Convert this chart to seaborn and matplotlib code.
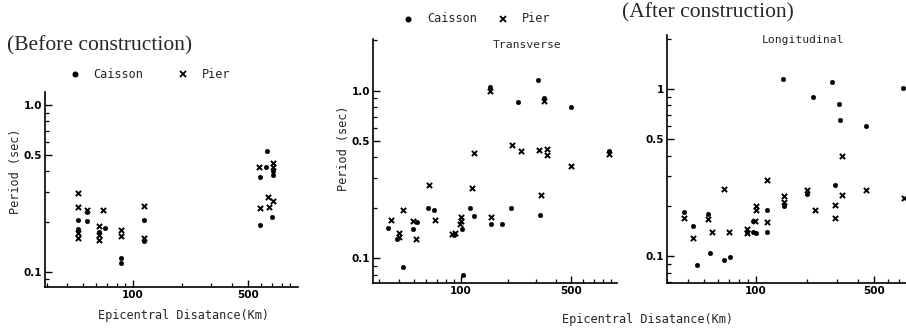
import matplotlib
matplotlib.use("Agg")
import matplotlib.pyplot as plt
import seaborn as sns
import pandas as pd
from matplotlib.ticker import LogLocator, NullFormatter, FixedLocator, FixedFormatter
from matplotlib.lines import Line2D

# ---------------- data ----------------
before_caisson_x = [46.5, 46.5, 52.4, 52.4, 62, 67.3, 84.5, 84.5, 116.7, 116.7,
                    650, 644, 706, 706, 592, 700, 592]
before_caisson_y = [0.203, 0.180, 0.228, 0.202, 0.174, 0.182, 0.121, 0.113, 0.205, 0.153,
                    0.53, 0.424, 0.404, 0.381, 0.369, 0.214, 0.191]
before_pier_x = [46.5, 46.5, 46.5, 46.5, 52.4, 62, 62, 62, 65.5, 84.5, 84.5, 116.7, 116.7,
                 586, 706, 706, 659, 706, 592, 668]
before_pier_y = [0.296, 0.243, 0.171, 0.159, 0.235, 0.189, 0.167, 0.155, 0.235, 0.179, 0.164,
                 0.249, 0.159, 0.427, 0.448, 0.427, 0.282, 0.266, 0.241, 0.244]

trans_caisson_x = [34.4, 38.9, 42.5, 52.7, 49.6, 61.6, 67.6, 90, 102, 103.5, 114, 121, 153,
                   154.5, 181.5, 208, 230, 310, 319, 340, 500, 881]
trans_caisson_y = [0.151, 0.130, 0.089, 0.164, 0.149, 0.200, 0.194, 0.137, 0.150, 0.080,
                   0.199, 0.180, 1.05, 0.160, 0.160, 0.199, 0.86, 1.16, 0.181, 0.90, 0.80, 0.44]
trans_pier_x = [35.7, 40.3, 40.3, 42.9, 49.6, 51.6, 62.8, 68.2, 88, 92, 100, 100, 98, 117,
                121, 153, 154.5, 212, 240, 315, 322, 340, 351, 351, 500, 881]
trans_pier_y = [0.169, 0.141, 0.135, 0.194, 0.168, 0.130, 0.274, 0.169, 0.140, 0.142, 0.177,
                0.166, 0.160, 0.262, 0.423, 1.0, 0.177, 0.474, 0.438, 0.443, 0.239, 0.87,
                0.447, 0.413, 0.356, 0.42]

long_caisson_x = [38.1, 43, 45.5, 52.8, 54, 65.6, 70.8, 88.7, 97, 97, 100, 117.3, 116.4,
                  144.5, 147, 200, 216, 280, 291, 311, 314, 447, 740]
long_caisson_y = [0.183, 0.151, 0.089, 0.180, 0.105, 0.095, 0.099, 0.140, 0.162, 0.139,
                  0.138, 0.190, 0.139, 1.14, 0.200, 0.235, 0.90, 1.10, 0.266, 0.81, 0.65,
                  0.598, 1.01]
long_pier_x = [38.1, 43, 52.8, 55.7, 65.6, 70.2, 88.7, 88.7, 100.7, 100.7, 99, 116.4, 117.3,
               147, 147, 200, 224, 291, 291, 321, 321, 447, 750]
long_pier_y = [0.170, 0.129, 0.166, 0.139, 0.253, 0.139, 0.145, 0.137, 0.199, 0.190, 0.162,
               0.287, 0.160, 0.228, 0.212, 0.250, 0.188, 0.202, 0.170, 0.396, 0.234, 0.248,
               0.222]

x_ticks = [100, 500]
x_ticklabels = ["100", "500"]
y_ticks = [0.1, 0.5, 1.0]
y_ticklabels_a = ["0.1", "0.5", "1.0"]
y_ticklabels_b = ["0.1", "0.5", "1"]

# ---------------- figure ----------------
sns.set_style("white")
W, H = 906, 331
fig = plt.figure(figsize=(W / 100, H / 100), dpi=100)


def rect(l, r, b, t):
    return [l / W, 1 - b / H, (r - l) / W, (b - t) / H]


mono = "DejaVu Sans Mono"
serif = "Liberation Serif"

panels = [
    (rect(45, 298, 287, 92), (29.2, 1007), (0.081, 1.196),
     before_caisson_x, before_caisson_y, before_pier_x, before_pier_y, y_ticklabels_a),
    (rect(372.7, 616.7, 283.3, 39.3), (27.4, 980), (0.071, 2.03),
     trans_caisson_x, trans_caisson_y, trans_pier_x, trans_pier_y, y_ticklabels_a),
    (rect(666.7, 906, 283.3, 35), (30, 766), (0.069, 2.1),
     long_caisson_x, long_caisson_y, long_pier_x, long_pier_y, y_ticklabels_b),
]

for pos, xl, yl, cx, cy, px, py, ylabels in panels:
    ax = fig.add_axes(pos)
    dfc = pd.DataFrame({"dist": cx, "period": cy})
    dfp = pd.DataFrame({"dist": px, "period": py})
    sns.scatterplot(data=dfc, x="dist", y="period", ax=ax, marker="o", s=11,
                    color="black", edgecolor="black", linewidth=0.3, clip_on=False)
    sns.scatterplot(data=dfp, x="dist", y="period", ax=ax, marker="x", s=14,
                    color="black", linewidth=1.4, clip_on=False)
    ax.set_xscale("log")
    ax.set_yscale("log")
    ax.set_xlim(*xl)
    ax.set_ylim(*yl)
    ax.set_xlabel("")
    ax.set_ylabel("")
    for s in ["top", "right"]:
        ax.spines[s].set_visible(False)
    for s in ["left", "bottom"]:
        ax.spines[s].set_color("black")
        ax.spines[s].set_linewidth(1.2)
    ax.xaxis.set_major_locator(FixedLocator(x_ticks))
    ax.xaxis.set_major_formatter(FixedFormatter(x_ticklabels))
    ax.yaxis.set_major_locator(FixedLocator(y_ticks))
    ax.yaxis.set_major_formatter(FixedFormatter(ylabels))
    ax.xaxis.set_minor_locator(LogLocator(base=10, subs=range(2, 10)))
    ax.yaxis.set_minor_locator(LogLocator(base=10, subs=range(2, 10)))
    ax.xaxis.set_minor_formatter(NullFormatter())
    ax.yaxis.set_minor_formatter(NullFormatter())
    ax.tick_params(which="both", bottom=True, left=True, top=False, right=False)
    ax.tick_params(which="major", direction="in", length=5, width=1.0, colors="black",
                   labelsize=7.5, pad=2)
    ax.tick_params(which="minor", direction="in", length=3, width=0.9, colors="black")
    for lab in ax.get_xticklabels() + ax.get_yticklabels():
        lab.set_fontweight("bold")
        lab.set_fontfamily("DejaVu Sans")
    ax.set_facecolor("white")


def ftext(x, y, s, **kw):
    fig.text(x / W, 1 - y / H, s, **kw)


def fmark(x, y, m, **kw):
    fig.add_artist(Line2D([x / W], [1 - y / H], marker=m, color="black",
                          linestyle="none", transform=fig.transFigure, **kw))


ftext(7, 46, "(Before construction)", family=serif, fontsize=15.5, ha="left", va="center")
ftext(622, 13, "(After construction)", family=serif, fontsize=15.5, ha="left", va="center")

# legends
fmark(75, 74, "o", markersize=3.3)
ftext(93, 74, "Caisson", family=mono, fontsize=8.6, ha="left", va="center")
fmark(183, 74, "x", markersize=4, markeredgewidth=1.3)
ftext(202, 74, "Pier", family=mono, fontsize=8.6, ha="left", va="center")

fmark(408, 19, "o", markersize=3.3)
ftext(427, 19, "Caisson", family=mono, fontsize=8.6, ha="left", va="center")
fmark(503, 19, "x", markersize=4, markeredgewidth=1.3)
ftext(522, 19, "Pier", family=mono, fontsize=8.6, ha="left", va="center")

ftext(493, 45, "Transverse", family=mono, fontsize=8.2, ha="left", va="center")
ftext(762, 40, "Longitudinal", family=mono, fontsize=8.2, ha="left", va="center")

ftext(15, 171, "Period (sec)", family=mono, fontsize=8.6, ha="center", va="center",
      rotation=90)
ftext(343, 148, "Period (sec)", family=mono, fontsize=8.6, ha="center", va="center",
      rotation=90)
ftext(183.5, 315, "Epicentral Disatance(Km)", family=mono, fontsize=8.6,
      ha="center", va="center")
ftext(648, 320, "Epicentral Disatance(Km)", family=mono, fontsize=8.6,
      ha="center", va="center")

fig.savefig("out.png", dpi=100, facecolor="white")
